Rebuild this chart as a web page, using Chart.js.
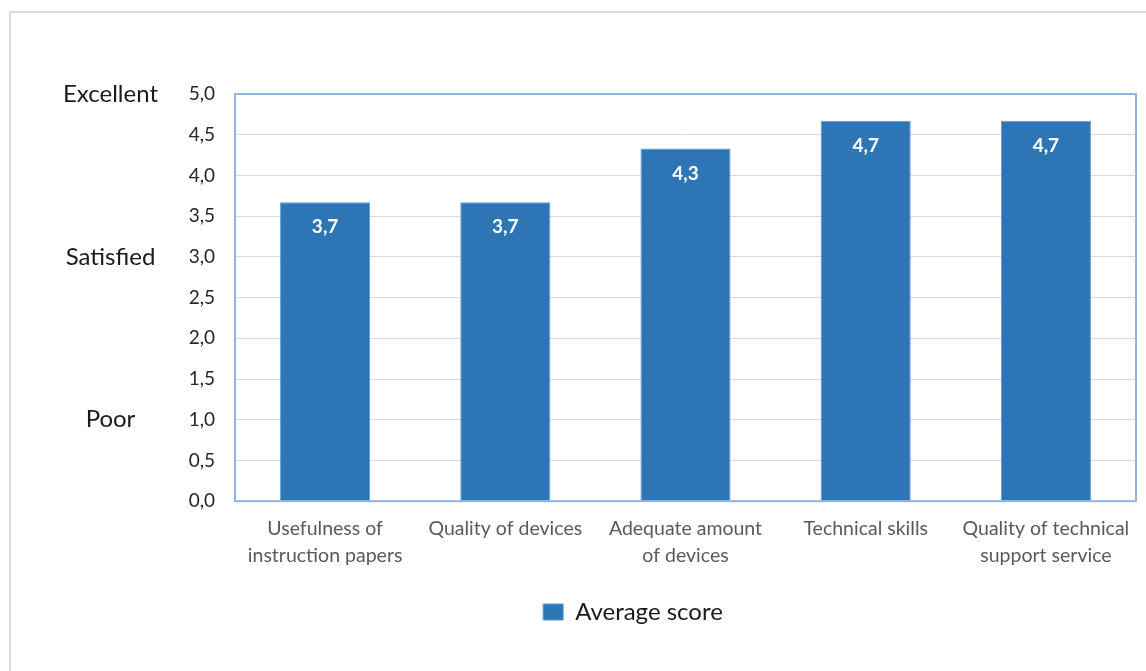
<!DOCTYPE html>
<html>
<head>
<meta charset="utf-8">
<script src="https://cdn.jsdelivr.net/npm/chart.js@4.4.1/dist/chart.umd.min.js"></script>
<style>
  html, body { margin: 0; padding: 0; background: #fff; overflow: hidden; }
  .frame {
    position: absolute; left: 9px; top: 11px;
    width: 1246px; height: 690px;
    border: 2px solid #dcdcdc; background: #fff;
  }
</style>
</head>
<body>
<div class="frame"><canvas id="scoreChart" width="1246" height="690"></canvas></div>
<script>
const categories = [
    ['Usefulness of', 'instruction papers'],
    'Quality of devices',
    ['Adequate amount', 'of devices'],
    'Technical skills',
    ['Quality of technical', 'support service']
];
const averageScore = [3.67, 3.67, 4.33, 4.67, 4.67];
const ratingTicks = [1, 3, 5];
const ratingNames = { 1: 'Poor', 3: 'Satisfied', 5: 'Excellent' };

const fontFamily = 'Lato, "Open Sans", sans-serif';

// white value text inside the top of every bar
const barValues = {
    id: 'barValues',
    afterDatasetsDraw(chart) {
        const ctx = chart.ctx;
        const meta = chart.getDatasetMeta(0);
        ctx.save();
        ctx.fillStyle = '#ffffff';
        ctx.font = 'bold 19px ' + fontFamily;
        ctx.textAlign = 'center';
        ctx.textBaseline = 'middle';
        meta.data.forEach((bar, i) => {
            const text = averageScore[i].toFixed(1).replace('.', ',');
            ctx.fillText(text, bar.x, bar.y + 25);
        });
        ctx.restore();
    }
};

// light blue frame round the plot area
const plotFrame = {
    id: 'plotFrame',
    afterDraw(chart) {
        const a = chart.chartArea;
        const ctx = chart.ctx;
        ctx.save();
        ctx.strokeStyle = '#8fb5e0';
        ctx.lineWidth = 2;
        ctx.strokeRect(a.left, a.top, a.right - a.left, a.bottom - a.top);
        ctx.restore();
    }
};

new Chart(document.getElementById('scoreChart'), {
    type: 'bar',
    data: {
        labels: categories,
        datasets: [{
            label: 'Average score',
            data: averageScore,
            backgroundColor: '#2e75b6',
            borderColor: '#5b9bd5',
            borderWidth: 1,
            barPercentage: 0.5,
            categoryPercentage: 1.0
        }]
    },
    options: {
        responsive: false,
        animation: false,
        layout: {
            padding: { top: 81, right: 54, left: 52, bottom: 69 }
        },
        scales: {
            x: {
                grid: { display: false, drawTicks: false },
                border: { display: false },
                ticks: {
                    color: '#595959',
                    padding: 14,
                    maxRotation: 0,
                    font: { family: fontFamily, size: 19.5, lineHeight: 1.38 }
                }
            },
            y: {
                min: 0,
                max: 5,
                weight: 0,
                grid: { color: '#d9d9d9', drawTicks: false },
                border: { display: false },
                afterFit: (axis) => { axis.width = 47; },
                ticks: {
                    stepSize: 0.5,
                    padding: 20,
                    color: '#262626',
                    font: { family: fontFamily, size: 19 },
                    callback: (v) => v.toFixed(1).replace('.', ',')
                }
            },
            rating: {
                position: 'left',
                min: 0,
                max: 5,
                weight: 1,
                grid: { display: false, drawTicks: false },
                border: { display: false },
                afterBuildTicks: (axis) => {
                    axis.ticks = ratingTicks.map(v => ({ value: v }));
                },
                afterFit: (axis) => { axis.width = 125; },
                ticks: {
                    padding: 30,
                    crossAlign: 'center',
                    color: '#1a1a1a',
                    font: { family: fontFamily, size: 24 },
                    callback: (v) => ratingNames[v]
                }
            },
            // empty strip right of the plot
            gap: {
                position: 'right',
                grid: { display: false, drawTicks: false },
                border: { display: false },
                ticks: { display: false },
                afterFit: (axis) => { axis.width = 67; }
            }
        },
        plugins: {
            legend: {
                position: 'bottom',
                labels: {
                    color: '#1a1a1a',
                    boxWidth: 20,
                    boxHeight: 16,
                    padding: 17,
                    font: { family: fontFamily, size: 24 }
                }
            },
            tooltip: { enabled: false }
        }
    },
    plugins: [barValues, plotFrame]
});
</script>
</body>
</html>
